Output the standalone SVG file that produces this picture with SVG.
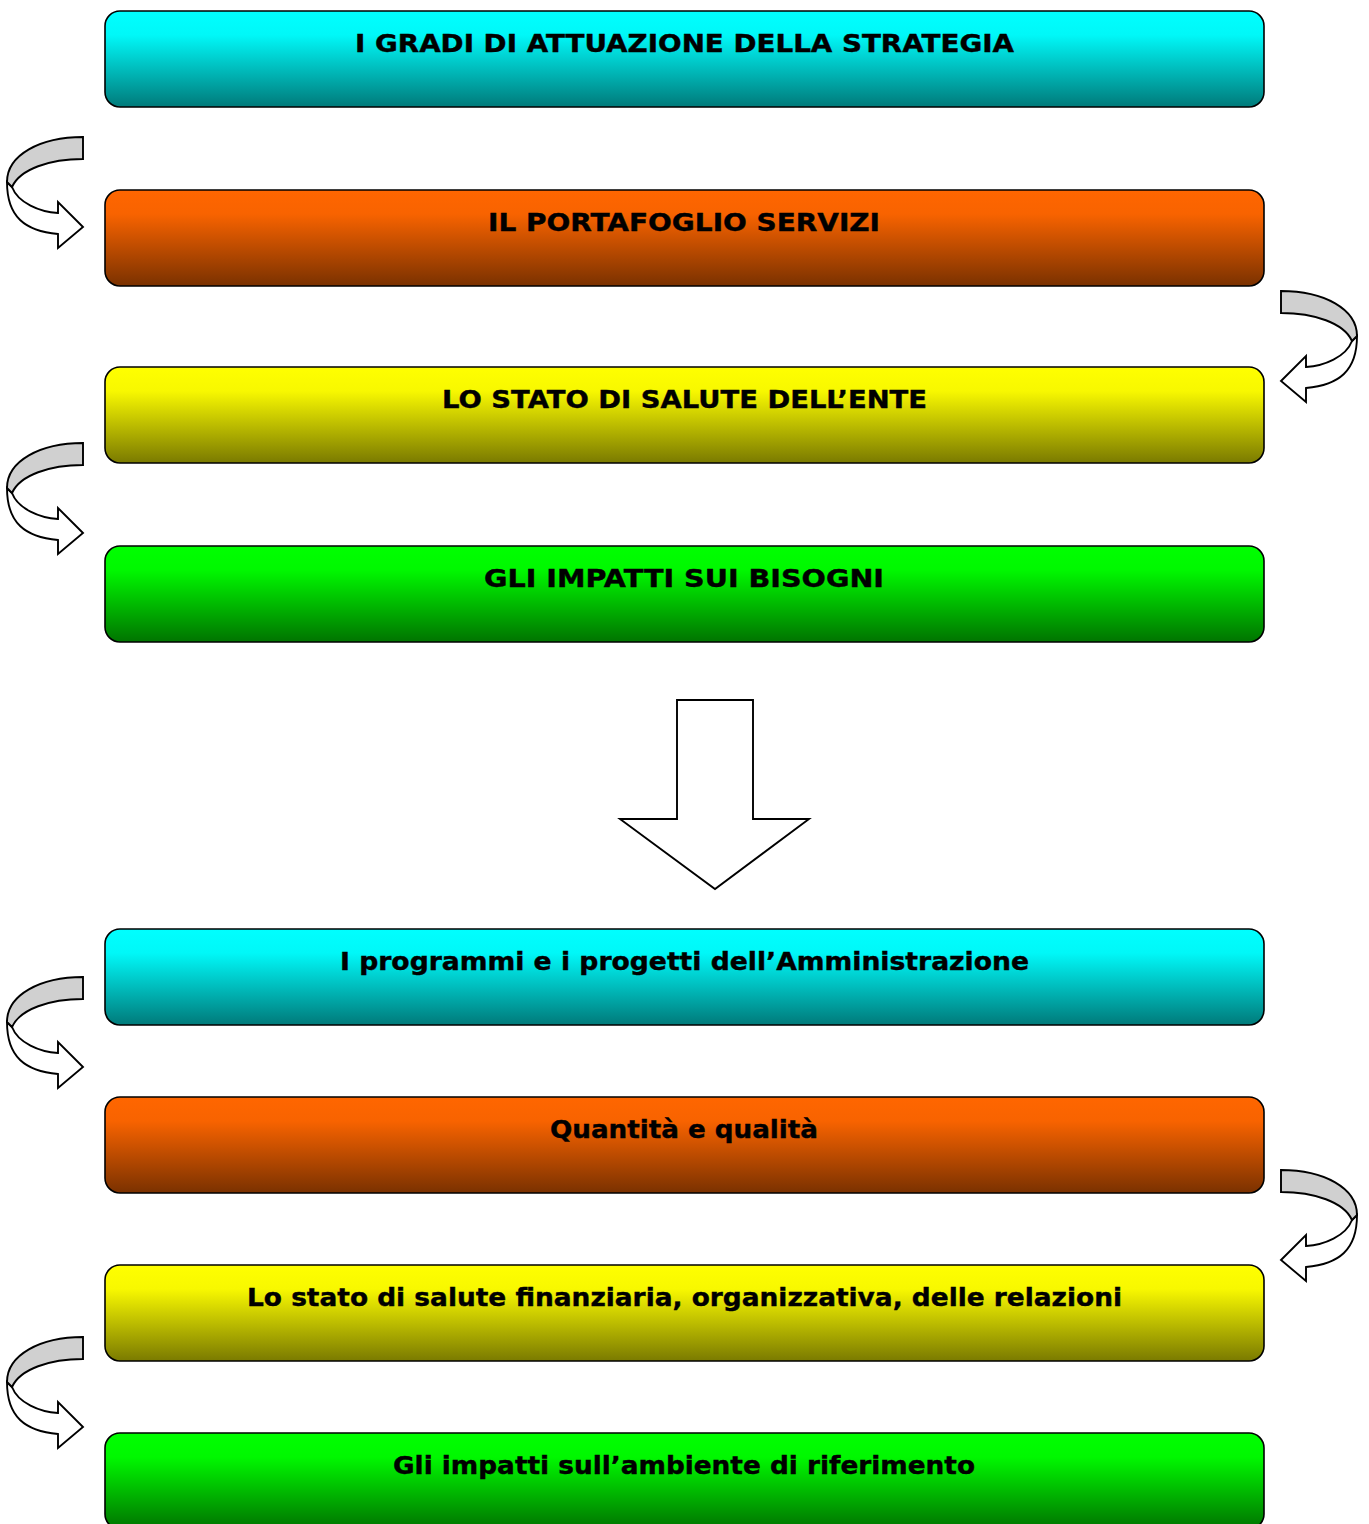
<svg xmlns="http://www.w3.org/2000/svg" width="1369" height="1524" viewBox="0 0 1369 1524">
<style>
.box{stroke:#000;stroke-width:1.6}
.lbl{font-family:"DejaVu Sans",Verdana,sans-serif;font-weight:bold;font-size:24px;fill:#000;stroke:#000;stroke-width:0.4;text-anchor:middle}
.sh{stroke:#000;stroke-width:1.9;stroke-linejoin:miter}
</style>
<defs>
<linearGradient id="gC" x1="0" y1="0" x2="0" y2="1"><stop offset="0" stop-color="#00FFFF"/><stop offset="0.25" stop-color="#00F8F8"/><stop offset="1" stop-color="#007A7A"/></linearGradient>
<linearGradient id="gO" x1="0" y1="0" x2="0" y2="1"><stop offset="0" stop-color="#FF6600"/><stop offset="0.25" stop-color="#F86300"/><stop offset="1" stop-color="#7A3100"/></linearGradient>
<linearGradient id="gY" x1="0" y1="0" x2="0" y2="1"><stop offset="0" stop-color="#FFFF00"/><stop offset="0.25" stop-color="#F8F800"/><stop offset="1" stop-color="#7A7A00"/></linearGradient>
<linearGradient id="gG" x1="0" y1="0" x2="0" y2="1"><stop offset="0" stop-color="#00FF00"/><stop offset="0.25" stop-color="#00F800"/><stop offset="1" stop-color="#007400"/></linearGradient>
<g id="curl">
<path class="sh" fill="#FFFFFF" d="M7,45 C7,80 25,94 58,97 L58,111 L83,90 L58,65 L58,76 C40,75 18,66 12,50 Z"/>
<path class="sh" fill="#D0D0D0" d="M83,0 C40,0 7,18 7,45 L12,50 C20,32 50,22 83,22 Z"/>
</g>
</defs>
<g id="connectors">
<use href="#curl" transform="translate(0,137)"/>
<use href="#curl" transform="translate(1364,291) scale(-1,1)"/>
<use href="#curl" transform="translate(0,443)"/>
<path class="sh" fill="#FFFFFF" d="M677,700 L753,700 L753,819 L809,819 L715,889 L620,819 L677,819 Z"/>
<use href="#curl" transform="translate(0,977)"/>
<use href="#curl" transform="translate(1364,1170) scale(-1,1)"/>
<use href="#curl" transform="translate(0,1337)"/>
</g>
<g id="n1"><rect class="box" x="105" y="11" width="1159" height="96" rx="15" fill="url(#gC)"/><text class="lbl" x="684.5" y="52" textLength="659" lengthAdjust="spacingAndGlyphs">I GRADI DI ATTUAZIONE DELLA STRATEGIA</text></g>
<g id="n2"><rect class="box" x="105" y="190" width="1159" height="96" rx="15" fill="url(#gO)"/><text class="lbl" x="684" y="231" textLength="392" lengthAdjust="spacingAndGlyphs">IL PORTAFOGLIO SERVIZI</text></g>
<g id="n3"><rect class="box" x="105" y="367" width="1159" height="96" rx="15" fill="url(#gY)"/><text class="lbl" x="684.5" y="408" textLength="485" lengthAdjust="spacingAndGlyphs">LO STATO DI SALUTE DELL’ENTE</text></g>
<g id="n4"><rect class="box" x="105" y="546" width="1159" height="96" rx="15" fill="url(#gG)"/><text class="lbl" x="684" y="587" textLength="400" lengthAdjust="spacingAndGlyphs">GLI IMPATTI SUI BISOGNI</text></g>
<g id="n5"><rect class="box" x="105" y="929" width="1159" height="96" rx="15" fill="url(#gC)"/><text class="lbl" x="684.5" y="970" textLength="689" lengthAdjust="spacingAndGlyphs">I programmi e i progetti dell’Amministrazione</text></g>
<g id="n6"><rect class="box" x="105" y="1097" width="1159" height="96" rx="15" fill="url(#gO)"/><text class="lbl" x="684" y="1138" textLength="268" lengthAdjust="spacingAndGlyphs">Quantità e qualità</text></g>
<g id="n7"><rect class="box" x="105" y="1265" width="1159" height="96" rx="15" fill="url(#gY)"/><text class="lbl" x="684.5" y="1306" textLength="875" lengthAdjust="spacingAndGlyphs">Lo stato di salute finanziaria, organizzativa, delle relazioni</text></g>
<g id="n8"><rect class="box" x="105" y="1433" width="1159" height="96" rx="15" fill="url(#gG)"/><text class="lbl" x="684" y="1474" textLength="582" lengthAdjust="spacingAndGlyphs">Gli impatti sull’ambiente di riferimento</text></g>
</svg>
